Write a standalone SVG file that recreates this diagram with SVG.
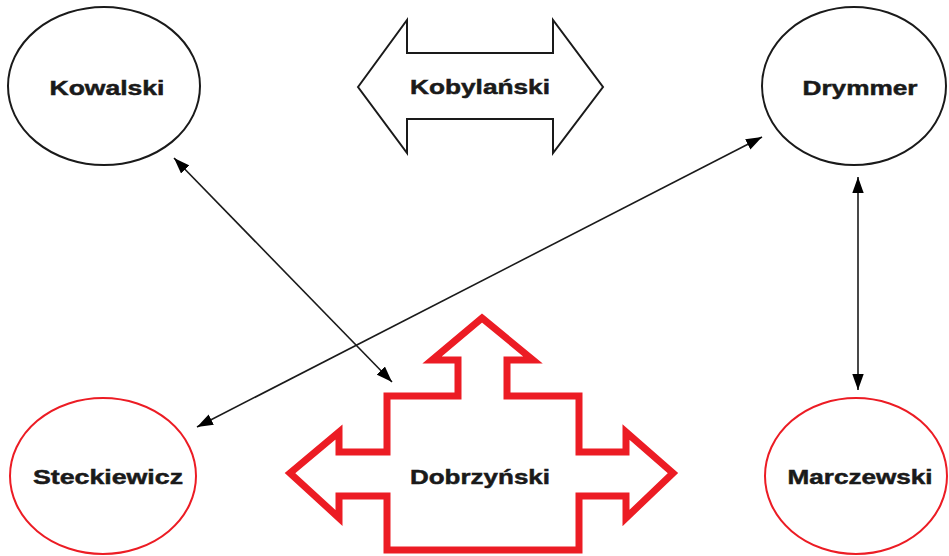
<svg xmlns="http://www.w3.org/2000/svg" width="949" height="556" viewBox="0 0 949 556">
<defs>
<marker id="ah" viewBox="0 0 14 10" refX="14" refY="5" markerWidth="16" markerHeight="12" markerUnits="userSpaceOnUse" orient="auto-start-reverse">
<path d="M0,0 L14,5 L0,10 z" fill="#000"/>
</marker>
<style>
.lbl{font-family:"Liberation Sans",Arial,sans-serif;font-weight:bold;font-size:21px;fill:#1a1a1a;stroke:#1a1a1a;stroke-width:0.5;text-anchor:middle}
.blk{fill:#fff;stroke:#1a1a1a;stroke-width:2}
.red{fill:#fff;stroke:#ec1c24;stroke-width:2}
.redshape{fill:#fff;stroke:#ec1c24;stroke-width:7;stroke-linejoin:miter}
.conn{stroke:#1a1a1a;stroke-width:1.6;fill:none;marker-start:url(#ah);marker-end:url(#ah)}
</style>
</defs>
<rect width="949" height="556" fill="#fff"/>
<g id="kowalski">
<ellipse class="blk" cx="104" cy="86" rx="96" ry="79"/>
<text class="lbl" x="107" y="95" textLength="115" lengthAdjust="spacingAndGlyphs">Kowalski</text>
</g>
<g id="kobylanski">
<path class="blk" d="M358,87 L407,20 L407,53 L553,53 L553,20 L603,87 L553,153 L553,119 L407,119 L407,153 Z"/>
<text class="lbl" x="480" y="94" textLength="140" lengthAdjust="spacingAndGlyphs">Kobylański</text>
</g>
<g id="drymmer">
<ellipse class="blk" cx="854" cy="86" rx="92" ry="79"/>
<text class="lbl" x="860" y="95" textLength="115" lengthAdjust="spacingAndGlyphs">Drymmer</text>
</g>
<g id="steckiewicz">
<ellipse class="red" cx="103" cy="476" rx="93" ry="78"/>
<text class="lbl" x="108" y="484" textLength="150" lengthAdjust="spacingAndGlyphs">Steckiewicz</text>
</g>
<g id="marczewski">
<ellipse class="red" cx="856" cy="476" rx="91" ry="78"/>
<text class="lbl" x="860" y="484" textLength="145" lengthAdjust="spacingAndGlyphs">Marczewski</text>
</g>
<g id="dobrzynski">
<path class="redshape" d="M482,318 L533,360 L507,360 L507,396 L579,396 L579,452 L626,452 L626,432 L673,473 L626,518 L626,496 L579,496 L579,550 L387,550 L387,496 L339,496 L339,518 L290,473 L339,432 L339,452 L387,452 L387,396 L458,396 L458,360 L432,360 Z"/>
<text class="lbl" x="480" y="484" textLength="140" lengthAdjust="spacingAndGlyphs">Dobrzyński</text>
</g>
<g id="connectors">
<line class="conn" x1="174" y1="158" x2="392" y2="382"/>
<line class="conn" x1="197" y1="427" x2="762" y2="137"/>
<line class="conn" x1="858" y1="177" x2="858" y2="390"/>
</g>
</svg>
